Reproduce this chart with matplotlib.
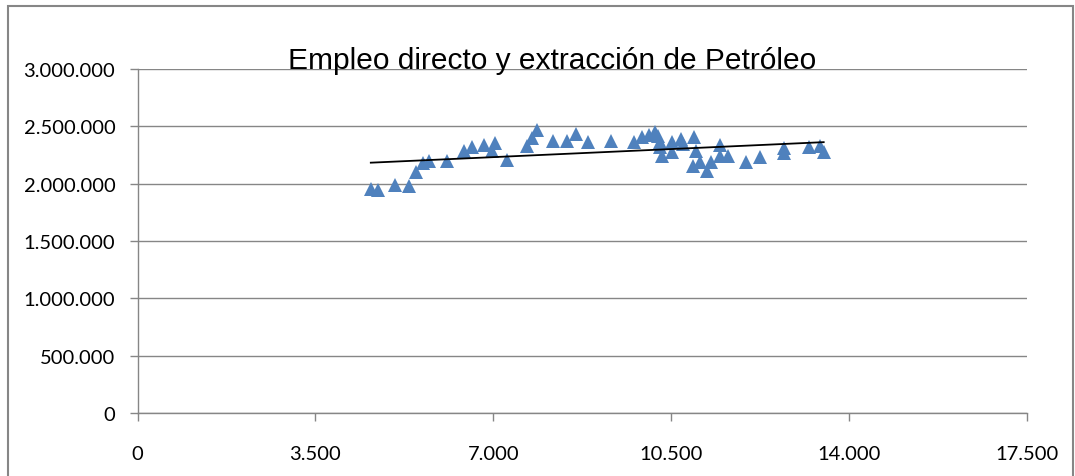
import numpy as np
import matplotlib
matplotlib.use("Agg")
import matplotlib.pyplot as plt
from matplotlib.ticker import FuncFormatter
from matplotlib.patches import Rectangle

# extraccion de petroleo (x) vs empleo directo (y)
extraccion = [4590, 4735, 5060, 5345, 5480, 5620, 5730, 6080, 6420, 6585,
              6815, 6965, 7030, 7260, 7655, 7765, 7850, 8180, 8445, 8625,
              8855, 9325, 9770, 9935, 10065, 10175, 10240, 10275, 10275, 10310,
              10510, 10510, 10690, 10735, 10945, 10985, 10920, 11060, 11205, 11290,
              11455, 11455, 11615, 11965, 12240, 12710, 12710, 13205, 13420, 13500]
empleo = [1953000, 1947000, 1988000, 1977000, 2105000, 2180000, 2200000, 2200000, 2282000, 2317000,
          2340000, 2282000, 2352000, 2209000, 2331000, 2395000, 2468000, 2375000, 2369000, 2433000,
          2361000, 2369000, 2361000, 2405000, 2425000, 2448000, 2419000, 2367000, 2318000, 2240000,
          2361000, 2274000, 2390000, 2346000, 2404000, 2288000, 2157000, 2186000, 2114000, 2186000,
          2337000, 2244000, 2239000, 2192000, 2230000, 2311000, 2268000, 2318000, 2332000, 2280000]

x_ticks = [0, 3500, 7000, 10500, 14000, 17500]
y_ticks = [0, 500000, 1000000, 1500000, 2000000, 2500000, 3000000]

def miles(v, pos):
    return "{:,.0f}".format(v).replace(",", ".")

W, H = 1075, 477
fig = plt.figure(figsize=(W / 100, H / 100), dpi=100)
ax = fig.add_axes([137.5 / W, (H - 414) / H, (1027 - 137.5) / W, 344 / H])

grey = "#868686"
ax.plot(extraccion, empleo, linestyle="none", marker="^", markersize=9.5,
        color="#4F81BD", markeredgewidth=0, zorder=3)

# linear trendline over the data range
m, b = np.polyfit(extraccion, empleo, 1)
xs = np.array([min(extraccion), max(extraccion)])
ax.plot(xs, m * xs + b, color="black", linewidth=1.3, zorder=4)

ax.set_xlim(x_ticks[0], x_ticks[-1])
ax.set_ylim(y_ticks[0], y_ticks[-1])
ax.set_xticks(x_ticks)
ax.set_yticks(y_ticks)
ax.xaxis.set_major_formatter(FuncFormatter(miles))
ax.yaxis.set_major_formatter(FuncFormatter(miles))
ax.grid(axis="y", color=grey, linewidth=1)
ax.set_axisbelow(True)
for s in ["top", "right"]:
    ax.spines[s].set_visible(False)
for s in ["left", "bottom"]:
    ax.spines[s].set_color(grey)
    ax.spines[s].set_linewidth(1)
ax.tick_params(axis="both", color=grey, length=6, width=1, labelsize=14.5)
ax.tick_params(axis="x", pad=17)
ax.tick_params(axis="y", pad=10)
for lab in ax.get_xticklabels() + ax.get_yticklabels():
    lab.set_fontfamily(["Lato", "DejaVu Sans"])

fig.text(552 / W, 1 - 61 / H, "Empleo directo y extracción de Petróleo",
         ha="center", va="center", fontsize=21.5, family="Liberation Sans")

# chart area border
fig.patches.append(Rectangle((8 / W, -0.02), (1073 - 8) / W, (H - 7) / H + 0.02,
                             transform=fig.transFigure, fill=False,
                             edgecolor=grey, linewidth=1.5))

fig.savefig("out.png", dpi=100)
